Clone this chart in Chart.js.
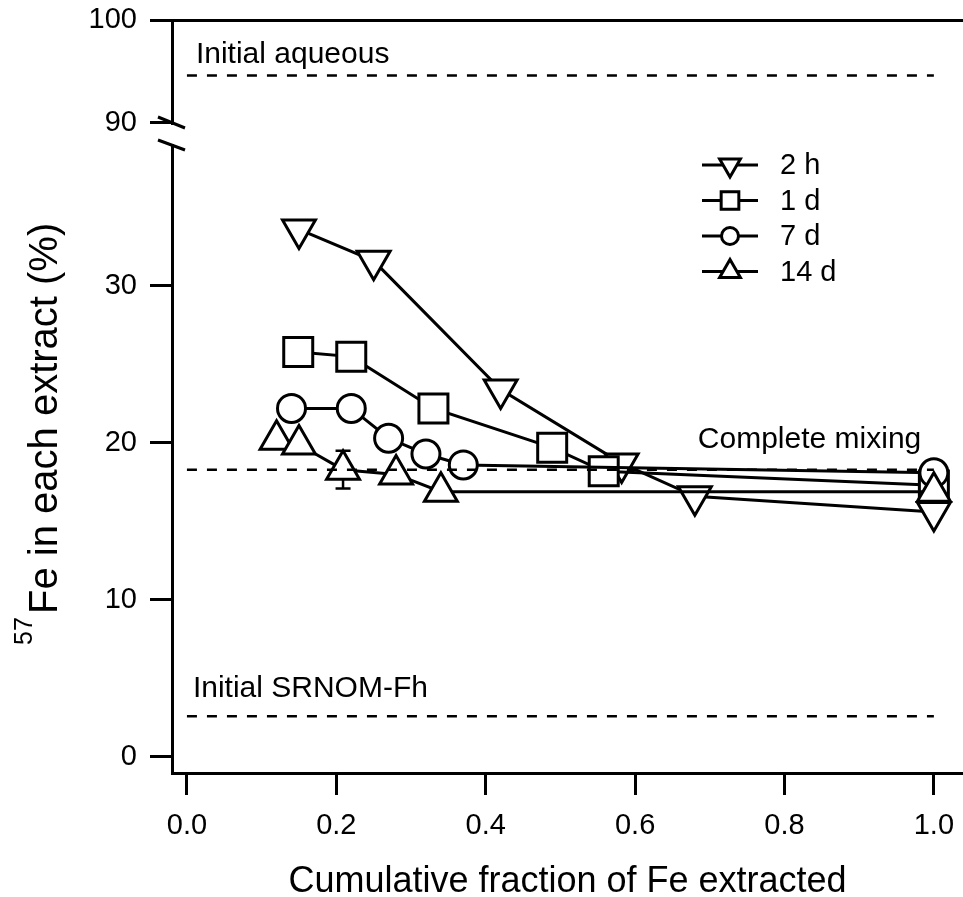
<!DOCTYPE html>
<html>
<head>
  <title>57Fe in each extract</title>
  <script src="https://cdn.jsdelivr.net/npm/chart.js"></script>
  <style>
    body {
      margin: 0;
      background: #ffffff;
    }
    #fracChart {
      display: block;
    }
  </style>
</head>
<body>
  <canvas id="fracChart" width="963" height="897"></canvas>
  <script>
    // cumulative fraction of Fe extracted (x) vs 57Fe in each extract, % (y)
    const x2h = [0.150, 0.250, 0.420, 0.582, 0.680, 1.0];
    const y2h = [33.6, 31.6, 23.4, 18.7, 16.6, 15.6];
    const x1d = [0.149, 0.220, 0.330, 0.489, 0.558, 1.0];
    const y1d = [25.8, 25.5, 22.2, 19.7, 18.2, 17.3];
    const x7d = [0.140, 0.220, 0.270, 0.320, 0.370, 1.0];
    const y7d = [22.2, 22.2, 20.3, 19.3, 18.6, 18.1];
    const x14d = [0.120, 0.150, 0.209, 0.280, 0.340, 1.0];
    const y14d = [20.2, 19.9, 18.3, 18.0, 16.9, 16.9];
    const err14d = [0, 0, 1.2, 0, 0, 0];

    const seriesLabels = ['2 h', '1 d', '7 d', '14 d'];
    const xTicks = [0, 0.2, 0.4, 0.6, 0.8, 1.0];
    const yTicksLow = [0, 10, 20, 30];
    const yTicksHigh = [90, 100];

    // reference levels (dashed lines) and their labels
    const refX = [0, 1.0];
    const refAqueous = 94.6;
    const refMixing = 18.3;
    const refSrnom = 2.6;
    const refLabels = ['Initial aqueous', 'Complete mixing', 'Initial SRNOM-Fh'];
    const refLabelX = [0.012, 0.684, 0.008];
    const refLabelY = [95.8, 19.7, 3.8];
    const refLabelAxis = ['y2', 'y', 'y'];

    const FONT = '"Liberation Sans", Arial, sans-serif';
    Chart.defaults.font.family = FONT;
    Chart.defaults.color = '#000';

    const markers = [
      {pointStyle: 'triangle', rotation: 180, radius: 19, legendRadius: 12},
      {pointStyle: 'rect', rotation: 0, radius: 20.5, legendRadius: 12.5},
      {pointStyle: 'circle', rotation: 0, radius: 14, legendRadius: 8.5},
      {pointStyle: 'triangle', rotation: 0, radius: 19, legendRadius: 12}
    ];

    function pts(xs, ys) {
      return xs.map((x, i) => ({x: x, y: ys[i]}));
    }

    function series(idx, xs, ys) {
      const m = markers[idx];
      return {
        label: seriesLabels[idx],
        data: pts(xs, ys),
        yAxisID: 'y',
        borderColor: '#000',
        borderWidth: 3,
        pointStyle: m.pointStyle,
        pointRotation: m.rotation,
        pointRadius: m.radius,
        pointBackgroundColor: '#fff',
        pointBorderColor: '#000',
        pointBorderWidth: 3,
        order: 4 - idx
      };
    }

    function refLine(level, axis) {
      return {
        data: refX.map(x => ({x: x, y: level})),
        yAxisID: axis,
        borderColor: '#000',
        borderWidth: 2.5,
        borderDash: [10, 10],
        pointRadius: 0,
        order: 0
      };
    }

    // keep the plot box where the reference has it: no automatic label padding
    function noPad(s) {
      s.paddingLeft = 0;
      s.paddingRight = 0;
      s.paddingTop = 0;
      s.paddingBottom = 0;
    }

    // error bars, labels, legend, axis break and y title
    const extras = {
      id: 'extras',
      beforeDatasetsDraw(chart) {
        const ctx = chart.ctx;
        const xs = chart.scales.x, ys = chart.scales.y;
        ctx.save();
        ctx.strokeStyle = '#000';
        ctx.lineWidth = 2.5;
        err14d.forEach((e, i) => {
          if (!e) return;
          const px = xs.getPixelForValue(x14d[i]);
          const top = ys.getPixelForValue(y14d[i] + e);
          const bot = ys.getPixelForValue(y14d[i] - e);
          ctx.beginPath();
          ctx.moveTo(px, top); ctx.lineTo(px, bot);
          ctx.moveTo(px - 7.5, top); ctx.lineTo(px + 7.5, top);
          ctx.moveTo(px - 7.5, bot); ctx.lineTo(px + 7.5, bot);
          ctx.stroke();
        });
        ctx.restore();
      },
      afterDraw(chart) {
        const ctx = chart.ctx;
        const area = chart.chartArea;
        ctx.save();
        ctx.fillStyle = '#000';

        // reference line labels
        ctx.font = '30px ' + FONT;
        ctx.textAlign = 'left';
        ctx.textBaseline = 'alphabetic';
        refLabels.forEach((t, i) => {
          const px = chart.scales.x.getPixelForValue(refLabelX[i]);
          const py = chart.scales[refLabelAxis[i]].getPixelForValue(refLabelY[i]);
          ctx.fillText(t, px, py);
        });

        // legend
        ctx.font = '29px ' + FONT;
        ctx.textBaseline = 'middle';
        seriesLabels.forEach((t, i) => {
          const ly = 165 + i * 35.5;
          ctx.strokeStyle = '#000';
          ctx.lineWidth = 3;
          ctx.beginPath();
          ctx.moveTo(702, ly); ctx.lineTo(758, ly);
          ctx.stroke();
          ctx.fillStyle = '#fff';
          Chart.helpers.drawPoint(ctx, {
            pointStyle: markers[i].pointStyle,
            rotation: markers[i].rotation,
            radius: markers[i].legendRadius,
            borderWidth: 3
          }, 730, ly);
          ctx.fillStyle = '#000';
          ctx.fillText(t, 780, ly + 1);
        });

        // axis break
        const bx = area.left;
        ctx.fillStyle = '#fff';
        ctx.fillRect(bx - 6, 125, 12, 19);
        ctx.strokeStyle = '#000';
        ctx.lineWidth = 3;
        ctx.beginPath();
        ctx.moveTo(bx - 14, 117); ctx.lineTo(bx + 13, 128);
        ctx.moveTo(bx - 14, 140); ctx.lineTo(bx + 13, 150);
        ctx.stroke();

        // axis titles
        ctx.fillStyle = '#000';
        ctx.textBaseline = 'alphabetic';
        ctx.textAlign = 'center';
        ctx.font = '36px ' + FONT;
        ctx.fillText('Cumulative fraction of Fe extracted', (area.left + area.right) / 2, 892);

        ctx.translate(57, 645);
        ctx.rotate(-Math.PI / 2);
        ctx.textAlign = 'left';
        ctx.font = '25px ' + FONT;
        ctx.fillText('57', 0, -25);
        ctx.font = '40px ' + FONT;
        ctx.fillText('Fe in each extract (%)', 31, 0);
        ctx.restore();
      }
    };

    const tickFont = {size: 29};

    new Chart(document.getElementById('fracChart'), {
      type: 'line',
      data: {
        datasets: [
          series(0, x2h, y2h),
          series(1, x1d, y1d),
          series(2, x7d, y7d),
          series(3, x14d, y14d),
          refLine(refAqueous, 'y2'),
          refLine(refMixing, 'y'),
          refLine(refSrnom, 'y')
        ]
      },
      options: {
        responsive: false,
        animation: false,
        devicePixelRatio: 1,
        layout: {autoPadding: false, padding: {top: 20, left: 0, right: 0, bottom: 0}},
        plugins: {
          legend: {display: false},
          tooltip: {enabled: false}
        },
        scales: {
          x: {
            type: 'linear',
            min: -0.02,
            max: 1.039,
            afterFit: s => { s.height = 124; noPad(s); },
            afterBuildTicks: s => { s.ticks = xTicks.map(v => ({value: v})); },
            grid: {drawOnChartArea: false, tickLength: 22, tickWidth: 3, tickColor: '#000'},
            border: {color: '#000', width: 3},
            ticks: {font: tickFont, padding: 14, maxRotation: 0, autoSkip: false,
              callback: v => v.toFixed(1)}
          },
          y: {
            type: 'linear',
            position: 'left',
            stack: 'brk',
            stackWeight: 639,
            min: -1.02,
            max: 39.68,
            afterFit: s => { s.width = 172; noPad(s); },
            afterBuildTicks: s => { s.ticks = yTicksLow.map(v => ({value: v})); },
            grid: {drawOnChartArea: false, tickLength: 22, tickWidth: 3, tickColor: '#000'},
            border: {color: '#000', width: 3},
            ticks: {font: tickFont, padding: 13}
          },
          y2: {
            type: 'linear',
            position: 'left',
            stack: 'brk',
            stackWeight: 114,
            min: 88.89,
            max: 100,
            afterFit: s => { s.width = 172; noPad(s); },
            afterBuildTicks: s => { s.ticks = yTicksHigh.map(v => ({value: v})); },
            grid: {
              drawOnChartArea: true,
              color: c => (c.tick && c.tick.value === 100) ? '#000' : 'rgba(0,0,0,0)',
              lineWidth: 3,
              tickLength: 22, tickWidth: 3, tickColor: '#000'
            },
            border: {color: '#000', width: 3},
            ticks: {font: tickFont, padding: 13}
          }
        }
      },
      plugins: [extras]
    });
  </script>
</body>
</html>
